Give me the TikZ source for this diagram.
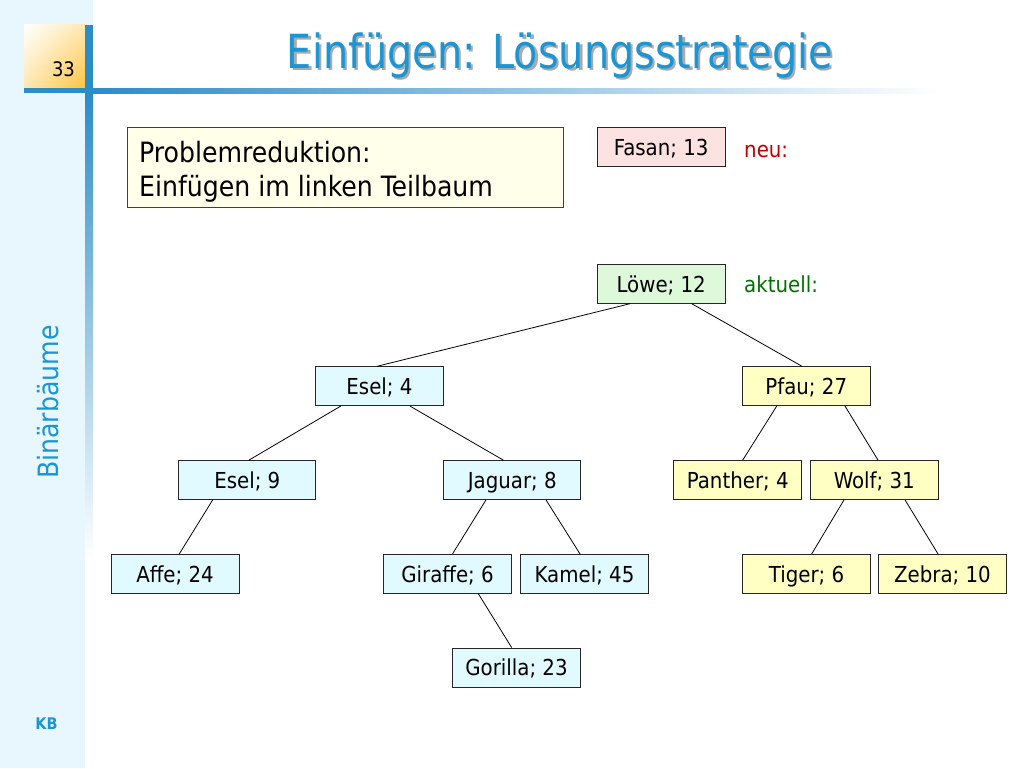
\documentclass[tikz,border=0pt]{standalone}
\usepackage{fontspec}
\setmainfont{DejaVu Sans Condensed}
\usetikzlibrary{positioning,shadings}
\definecolor{panelblue}{RGB}{232,246,253}
\definecolor{barblue}{RGB}{44,140,200}
\definecolor{titleblue}{RGB}{26,150,212}
\definecolor{titleshadow}{RGB}{170,170,170}
\definecolor{numorange}{RGB}{255,196,64}
\definecolor{cyanfill}{RGB}{224,250,255}
\definecolor{yellowfill}{RGB}{255,255,196}
\definecolor{greenfill}{RGB}{222,248,218}
\definecolor{pinkfill}{RGB}{253,226,226}
\definecolor{creamfill}{RGB}{255,255,234}
\definecolor{neured}{RGB}{192,0,0}
\definecolor{aktgreen}{RGB}{0,112,0}
\newcommand{\titletext}{Einfügen: Lösungsstrategie}
\begin{document}
\begin{tikzpicture}[x=1pt,y=-1pt,
  nd/.style={draw=black!85, line width=0.8pt, inner sep=0pt, minimum width=128pt, minimum height=39pt,
    text height=16.5pt, text depth=0pt, font=\fontsize{22}{26}\selectfont},
  ndw/.style={nd, minimum width=137pt},
  cy/.style={fill=cyanfill},
  ye/.style={fill=yellowfill},
  edge/.style={draw=black, line width=0.8pt},
  lbl/.style={inner sep=0pt, anchor=base west, font=\fontsize{22}{26}\selectfont}]
\useasboundingbox (0,0) rectangle (1024,768);
\fill[white] (0,0) rectangle (1024,768);
% left panel
\fill[panelblue] (0,0) rectangle (85,768);
\fill[panelblue] (85,0) rectangle (93,25);
% number box
\shade[upper left=white, upper right=numorange!40!white, lower left=numorange!40!white, lower right=numorange]
  (24,25) rectangle (85,88);
\node[inner sep=0pt, font=\fontsize{20}{24}\selectfont] (num) at (63.5,69) {33};
% bars
\fill[barblue] (85,25) rectangle (93,93);
\shade[top color=barblue, bottom color=white] (85,93) rectangle (93,560);
\fill[barblue] (24,88) rectangle (93,93);
\shade[left color=barblue, right color=white] (93,88) rectangle (940,93);
% title (with shadow)
\node[inner sep=0pt, anchor=base, font=\fontsize{47}{54}\selectfont] (title) at (560,68)
  {\scalebox{0.94}[1]{\makebox[0pt][l]{\hspace{2.5pt}\raisebox{-2.5pt}{\textcolor{titleshadow}{\titletext}}}\textcolor{titleblue}{\titletext}}};
% side texts
\node[inner sep=0pt, rotate=90, text=titleblue, font=\fontsize{28}{32}\selectfont] (side) at (48,402) {Binärbäume};
\node[inner sep=0pt, text=titleblue, font=\bfseries\fontsize{16}{18}\selectfont] (kb) at (46.5,724) {KB};
% problem box
\node[draw=black!75, line width=0.8pt, fill=creamfill, minimum width=436pt, minimum height=80pt, inner sep=0pt] (prob) at (345,167) {};
\node[inner sep=0pt, anchor=base west, font=\fontsize{28}{34}\selectfont] (p1) at (139,162) {Problemreduktion:};
\node[inner sep=0pt, anchor=base west, font=\fontsize{28}{34}\selectfont] (p2) at (139,196) {Einfügen im linken Teilbaum};
% new / current
\node[nd, fill=pinkfill, minimum height=39.4pt] (fasan) at (661.2,147) {Fasan; 13};
\node[lbl, text=neured] (neu) at (744,157) {neu:};
\node[nd, fill=greenfill] (loewe) at (661.2,283.8) {Löwe; 12};
\node[lbl, text=aktgreen] (akt) at (744,292.3) {aktuell:};
% tree
\node[nd, cy] (esel4) at (379.5,386.2) {Esel; 4};
\node[nd, ye] (pfau) at (806.3,386.2) {Pfau; 27};
\node[ndw, cy] (esel9) at (247.3,480) {Esel; 9};
\node[ndw, cy] (jaguar) at (512.3,480) {Jaguar; 8};
\node[nd, ye] (panther) at (737.8,480) {Panther; 4};
\node[nd, ye] (wolf) at (874.3,480) {Wolf; 31};
\node[nd, cy] (affe) at (175,573.8) {Affe; 24};
\node[nd, cy] (giraffe) at (447.5,573.8) {Giraffe; 6};
\node[nd, cy] (kamel) at (584.5,573.8) {Kamel; 45};
\node[nd, ye] (tiger) at (806.5,573.8) {Tiger; 6};
\node[nd, ye] (zebra) at (942.5,573.8) {Zebra; 10};
\node[nd, cy] (gorilla) at (516.5,667.5) {Gorilla; 23};
% edges
\draw[edge] ([xshift=-31.2pt]loewe.south) -- ([xshift=-2.5pt]esel4.north);
\draw[edge] ([xshift=30.5pt]loewe.south) -- ([xshift=-4.3pt]pfau.north);
\draw[edge] ([xshift=-38.8pt]esel4.south) -- ([xshift=1.7pt]esel9.north);
\draw[edge] ([xshift=30.5pt]esel4.south) -- ([xshift=-9pt]jaguar.north);
\draw[edge] ([xshift=-34.6pt]esel9.south) -- ([xshift=4.3pt]affe.north);
\draw[edge] ([xshift=-26.3pt]jaguar.south) -- ([xshift=5pt]giraffe.north);
\draw[edge] ([xshift=33.7pt]jaguar.south) -- ([xshift=-4.5pt]kamel.north);
\draw[edge] ([xshift=30.8pt]giraffe.south) -- ([xshift=-4.8pt]gorilla.north);
\draw[edge] ([xshift=-29.6pt]pfau.south) -- ([xshift=4.9pt]panther.north);
\draw[edge] ([xshift=38.7pt]pfau.south) -- ([xshift=3.7pt]wolf.north);
\draw[edge] ([xshift=-30.3pt]wolf.south) -- ([xshift=5.2pt]tiger.north);
\draw[edge] ([xshift=30.7pt]wolf.south) -- ([xshift=-4.5pt]zebra.north);
\end{tikzpicture}
\end{document}
